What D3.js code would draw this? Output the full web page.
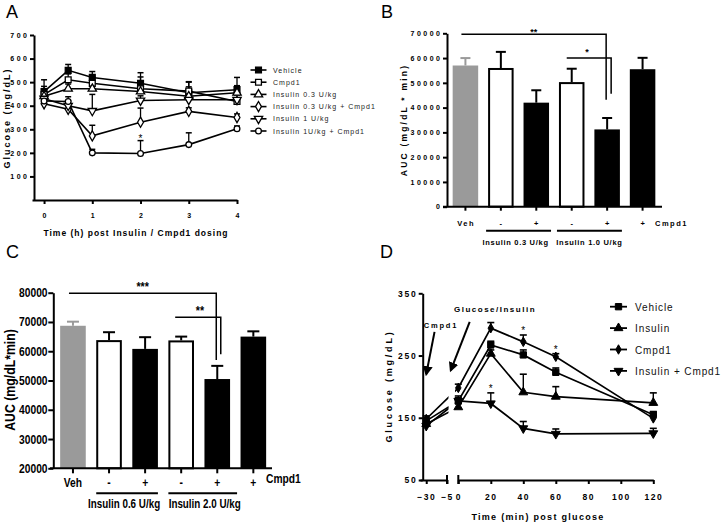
<!DOCTYPE html>
<html><head><meta charset="utf-8">
<script src="https://cdn.jsdelivr.net/npm/d3@7"></script>
<style>body{margin:0;background:#fff}svg{display:block}</style>
</head><body><svg id="c" width="723" height="525"></svg>
<script>
// ================= DATA =================
// Panel A
const timesA = [0, 0.5, 1, 2, 3, 4];
const namesA = ["Vehicle","Cmpd1","Insulin 0.3 U/kg","Insulin 0.3 U/kg + Cmpd1","Insulin 1 U/kg","Insulin 1U/kg + Cmpd1"];
const vehicleA = [460, 550, 520, 495, 455, 468];
const vehicleErrA = [50, 25, 25, 45, 45, 52];
const cmpd1A = [447, 510, 495, 472, 462, 418];
const cmpd1ErrA = [35, 25, 30, 50, 40, 35];
const ins03A = [440, 472, 472, 460, 440, 455];
const ins03ErrA = [30, 20, 20, 30, 40, 30];
const ins03CA = [408, 385, 272, 330, 376, 350];
const ins03CErrA = [20, 15, 45, 60, 15, 15];
const ins1A = [430, 400, 378, 422, 425, 425];
const ins1ErrA = [20, 20, 70, 20, 25, 20];
const ins1CA = [420, 418, 200, 197, 235, 302];
const ins1CErrA = [20, 20, 15, 55, 50, 12];
const yTicksA = [100, 200, 300, 400, 500, 600, 700];
const xTicksA = [0, 1, 2, 3, 4];
// Panel B
const catsB = ["Veh", "-", "+", "-", "+", "+"];
const valuesB = [57000, 56000, 42000, 50300, 31200, 55500];
const errB = [3000, 6500, 5000, 5400, 4600, 4600];
const groupsB = ["Insulin 0.3 U/kg", "Insulin 1.0 U/kg"];
const yTicksB = [0, 10000, 20000, 30000, 40000, 50000, 60000, 70000];
// Panel C
const catsC = ["Veh", "-", "+", "-", "+", "+"];
const valuesC = [68700, 63800, 60800, 63700, 50500, 65000];
const errC = [1400, 2700, 4000, 1300, 4500, 1800];
const groupsC = ["Insulin 0.6 U/kg", "Insulin 2.0 U/kg"];
const yTicksC = [20000, 30000, 40000, 50000, 60000, 70000, 80000];
// Panel D
const timesD = [-30, 0, 20, 40, 60, 120];
const namesD = ["Vehicle", "Insulin", "Cmpd1", "Insulin + Cmpd1"];
const vehicleD = [145, 177, 267, 251, 223, 155];
const vehicleErrD = [5, 8, 6, 8, 7, 5];
const insulinD = [140, 167, 253, 191, 184, 174];
const insulinErrD = [5, 6, 6, 29, 16, 16];
const cmpd1D = [148, 198, 294, 272, 248, 149];
const cmpd1ErrD = [5, 6, 9, 11, 5, 5];
const insCD = [137, 177, 173, 133, 124, 125];
const insCErrD = [5, 5, 17, 11, 8, 8];
const yTicksD = [50, 150, 250, 350];
const xTicksD1 = [-30, -5];
const xTicksD2 = [0, 20, 40, 60, 80, 100, 120];

// ================= DRAWING =================
const FONT = "'Liberation Sans', Arial, Helvetica, sans-serif";
const svg = d3.select("#c");
const defs = svg.append("defs");
const fmt = d3.format("d");
const symTypes = {sq: d3.symbolSquare, tri: d3.symbolTriangle, dia: d3.symbolDiamond, triD: d3.symbolTriangle, cir: d3.symbolCircle};
function marker(g, type, x, y, size, filled, sw) {
  g.append("path").attr("d", d3.symbol(symTypes[type], size)())
    .attr("transform", `translate(${x},${y})` + (type === "triD" ? " rotate(180)" : ""))
    .attr("fill", filled ? "#000" : "#fff").attr("stroke", "#000").attr("stroke-width", sw || 1.3);
}
function styleAxis(g, o) {
  g.attr("font-family", FONT);
  g.select("path.domain").attr("stroke", "#000").attr("stroke-width", o.sw || 2);
  g.selectAll(".tick line").attr("stroke", "#000").attr("stroke-width", o.sw || 2);
  const t = g.selectAll(".tick text").attr("fill", "#000").attr("font-size", o.fs).attr("font-weight", "bold")
    .attr("letter-spacing", o.ls || 0);
  if (o.sx) t.attr("transform", `scale(${o.sx},1)`);
}
function txt(g, x, y, s, o) {
  const t = g.append("text").text(s)
    .attr("font-family", FONT).attr("font-size", o.fs)
    .attr("font-weight", o.bold ? "bold" : "normal").attr("fill", o.fill || "#000")
    .attr("text-anchor", o.anchor || "start").attr("letter-spacing", o.ls || 0);
  let tr = `translate(${x},${y})`;
  if (o.rot) tr += " rotate(-90)";
  if (o.sx) tr += ` scale(${o.sx},1)`;
  t.attr("transform", tr);
  return t;
}

// panel letters
txt(svg, 6, 18, "A", {fs: 18});
txt(svg, 381, 18, "B", {fs: 18});
txt(svg, 6, 258, "C", {fs: 18});
txt(svg, 380, 258, "D", {fs: 18});

// ---------- Panel A ----------
{
  const g = svg.append("g");
  const x = d3.scaleLinear().domain([-0.25, 4]).range([32, 237]);
  const y = d3.scaleLinear().domain([0, 700]).range([200, 35]);
  const ya = g.append("g").attr("transform", "translate(34,0)")
    .call(d3.axisLeft(y).tickValues(yTicksA).tickFormat(fmt).tickSize(4).tickSizeOuter(0).tickPadding(3));
  styleAxis(ya, {fs: 7, ls: 2.5});
  ya.selectAll(".tick text").attr("dx", 2.5);
  const xa = g.append("g").attr("transform", "translate(0,200)")
    .call(d3.axisBottom(x).tickValues(xTicksA).tickFormat(fmt).tickSize(4).tickSizeOuter(0).tickPadding(9));
  styleAxis(xa, {fs: 7});
  txt(g, 136, 236, "Time (h) post Insulin / Cmpd1 dosing", {fs: 8.5, bold: true, ls: 1, anchor: "middle"});
  txt(g, 10, 118, "Glucose (mg/dL)", {fs: 9, bold: true, ls: 2, anchor: "middle", rot: true});

  const series = [
    {v: vehicleA, e: vehicleErrA, m: "sq", f: true},
    {v: cmpd1A, e: cmpd1ErrA, m: "sq", f: false},
    {v: ins03A, e: ins03ErrA, m: "tri", f: false},
    {v: ins03CA, e: ins03CErrA, m: "dia", f: false},
    {v: ins1A, e: ins1ErrA, m: "triD", f: false},
    {v: ins1CA, e: ins1CErrA, m: "cir", f: false}
  ];
  const line = d3.line().x(d => x(d[0])).y(d => y(d[1]));
  series.forEach(s => {
    g.append("path").attr("d", line(timesA.map((t, i) => [t, s.v[i]])))
      .attr("fill", "none").attr("stroke", "#000").attr("stroke-width", 1.6);
  });
  series.forEach(s => {
    timesA.forEach((t, i) => {
      const cx = x(t), y0 = y(s.v[i]), y1 = y(s.v[i] + s.e[i]);
      g.append("line").attr("x1", cx).attr("x2", cx).attr("y1", y0).attr("y2", y1).attr("stroke", "#000").attr("stroke-width", 1.3);
      g.append("line").attr("x1", cx - 3).attr("x2", cx + 3).attr("y1", y1).attr("y2", y1).attr("stroke", "#000").attr("stroke-width", 1.5);
    });
  });
  const sizes = {sq: 34, tri: 30, dia: 30, triD: 30, cir: 26};
  series.forEach(s => timesA.forEach((t, i) => marker(g, s.m, x(t), y(s.v[i]), sizes[s.m], s.f)));
  txt(g, x(2), y(ins1CA[3] + ins1CErrA[3]) + 1, "*", {fs: 10, anchor: "middle"});
  series.forEach((s, i) => {
    const ry = 70 + i * 12.2;
    g.append("line").attr("x1", 250.5).attr("x2", 266.5).attr("y1", ry).attr("y2", ry).attr("stroke", "#000").attr("stroke-width", 1.6);
    marker(g, s.m, 258.5, ry, sizes[s.m], s.f);
    txt(g, 273, ry + 2.5, namesA[i], {fs: 7, ls: 1, fill: "#222"});
  });
}

// ---------- bar panel helper ----------
function barPanel(o) {
  const g = svg.append("g");
  const x = d3.scaleBand().domain(d3.range(o.cats.length)).range(o.xr).paddingInner(o.pi).paddingOuter(o.po);
  const y = d3.scaleLinear().domain(o.yd).range(o.yr);
  const fills = ["#9a9a9a", "#fff", "#000", "#fff", "#000", "#000"];
  const bw = x.bandwidth();
  o.vals.forEach((v, i) => {
    const cx = x(i) + bw / 2;
    const col = i === 0 ? "#9a9a9a" : "#000";
    const ye = y(v + o.errs[i]);
    g.append("line").attr("x1", cx).attr("x2", cx).attr("y1", y(v)).attr("y2", ye).attr("stroke", col).attr("stroke-width", 2);
    g.append("line").attr("x1", cx - o.cap).attr("x2", cx + o.cap).attr("y1", ye).attr("y2", ye).attr("stroke", col).attr("stroke-width", 2);
    const inset = fills[i] === "#fff" ? 1 : 0;
    g.append("rect").attr("x", x(i) + inset).attr("width", bw - 2 * inset)
      .attr("y", y(v) + inset).attr("height", y(o.yd[0]) - y(v) - inset)
      .attr("fill", fills[i]).attr("stroke", fills[i] === "#fff" ? "#000" : "none").attr("stroke-width", 2);
  });
  const ya = g.append("g").attr("transform", `translate(${o.axisX},0)`)
    .call(d3.axisLeft(y).tickValues(o.yTicks).tickFormat(fmt).tickSize(o.ts).tickSizeOuter(0).tickPadding(o.tp));
  styleAxis(ya, {fs: o.tfs, ls: o.tls, sx: o.sx});
  if (o.tls) ya.selectAll(".tick text").attr("dx", o.tls);
  const y0 = y(o.yd[0]);
  g.append("line").attr("x1", o.xLine[0]).attr("x2", o.xLine[1]).attr("y1", y0).attr("y2", y0).attr("stroke", "#000").attr("stroke-width", 2);
  o.cats.forEach((c, i) => {
    const cx = x(i) + bw / 2;
    g.append("line").attr("x1", cx).attr("x2", cx).attr("y1", y0).attr("y2", y0 + o.ts).attr("stroke", "#000").attr("stroke-width", 2);
    txt(g, cx + (o.xls || 0) / 2, o.catY, c, {fs: o.cfs, bold: true, ls: o.xls, anchor: "middle", sx: o.sx});
  });
  txt(g, o.cmpdX, o.cmpdY, "Cmpd1", {fs: o.cfs, bold: true, ls: o.xls, sx: o.sx});
  [[1, 2], [3, 4]].forEach((pr, k) => {
    const a = x(pr[0]) - o.gext, b = x(pr[1]) + bw + o.gext + o.gextR[k];
    g.append("line").attr("x1", a).attr("x2", b).attr("y1", o.gLineY).attr("y2", o.gLineY).attr("stroke", "#000").attr("stroke-width", 2);
    txt(g, (a + b) / 2 + o.gdx[k], o.gLabY, o.groups[k], {fs: o.gfs, bold: true, ls: o.gls, anchor: "middle", sx: o.sx});
  });
  o.sig.forEach(s => {
    const xa = x(s.from) + bw / 2 + s.dxa, xb = x(s.to) + bw / 2 + s.dxb;
    const yl = y(s.y), yd = y(s.drop);
    g.append("path").attr("d", `M${xa},${yl}H${xb}V${yd}`).attr("fill", "none").attr("stroke", "#000").attr("stroke-width", 1.5);
    txt(g, (xa + xb) / 2 + s.ldx, yl - s.ldy, s.label, {fs: o.sfs, bold: true, anchor: "middle", sx: o.sx});
  });
  txt(g, o.titleX, o.titleY, o.title, {fs: o.titfs, bold: true, ls: o.titls, anchor: "middle", rot: true, sx: o.sx});
  return g;
}

// ---------- Panel B ----------
barPanel({
  cats: catsB, vals: valuesB, errs: errB, groups: groupsB, yTicks: yTicksB,
  xr: [447, 661], pi: 0.28, po: 0.16, yd: [0, 70000], yr: [206.7, 33.3],
  cap: 5, axisX: 447, ts: 4, tp: 3, tfs: 7, tls: 2.5, xLine: [443, 662],
  catY: 226, cfs: 7.5, xls: 1.5, cmpdX: 655, cmpdY: 226,
  gext: 2, gextR: [0, 0], gLineY: 230.7, gLabY: 245, gfs: 7.5, gls: 0.7, gdx: [-3, 0],
  sig: [{from: 0, to: 4, y: 69600, drop: 43200, label: "**", dxa: -4, dxb: -1, ldx: 0, ldy: -1},
        {from: 3, to: 4, y: 60000, drop: 45600, label: "*", dxa: -5, dxb: 4, ldx: -2, ldy: 3}],
  sfs: 9, title: "AUC (mg/dL * min)", titleX: 407, titleY: 120, titfs: 8.5, titls: 2.2
});

// ---------- Panel C ----------
barPanel({
  cats: catsC, vals: valuesC, errs: errC, groups: groupsC, yTicks: yTicksC,
  xr: [53.3, 273], pi: 0.29, po: 0.19, yd: [20000, 80000], yr: [468.3, 292.7],
  cap: 6, axisX: 53.3, ts: 5, tp: 2, tfs: 12.5, tls: 0, xLine: [50, 272], sx: 0.82,
  catY: 487, cfs: 12.5, xls: 0, cmpdX: 266, cmpdY: 483,
  gext: 0, gextR: [0, 7], gLineY: 493.3, gLabY: 508, gfs: 12, gls: 0, gdx: [-3, 2],
  sig: [{from: 0, to: 4, y: 79800, drop: 57000, label: "***", dxa: -4, dxb: -1, ldx: 0, ldy: 2},
        {from: 3, to: 4, y: 71600, drop: 59000, label: "**", dxa: -6, dxb: 3.5, ldx: 2, ldy: 2}],
  sfs: 13, title: "AUC (mg/dL*min)", titleX: 15, titleY: 380, titfs: 15, titls: 0
});

// ---------- Panel D ----------
{
  const g = svg.append("g");
  const x1 = d3.scaleLinear().domain([-37.5, -5]).range([420, 447]);
  const x2 = d3.scaleLinear().domain([0, 120]).range([458.3, 653.3]);
  const xD = t => t < 0 ? x1(t) : x2(t);
  const y = d3.scaleLinear().domain([50, 350]).range([480, 293.3]);
  const ya = g.append("g").attr("transform", "translate(422.7,0)")
    .call(d3.axisLeft(y).tickValues(yTicksD).tickFormat(fmt).tickSize(4).tickSizeOuter(0).tickPadding(3));
  styleAxis(ya, {fs: 8.5, ls: 1.8});
  ya.selectAll(".tick text").attr("dx", 1.8);
  const xa1 = g.append("g").attr("transform", "translate(0,480)")
    .call(d3.axisBottom(x1).tickValues(xTicksD1).tickFormat(fmt).tickSize(4).tickSizeOuter(0).tickPadding(10));
  styleAxis(xa1, {fs: 8.5, ls: 1.5});
  const xa2 = g.append("g").attr("transform", "translate(0,480)")
    .call(d3.axisBottom(x2).tickValues(xTicksD2).tickFormat(fmt).tickSize(4).tickSizeOuter(0).tickPadding(10));
  styleAxis(xa2, {fs: 8.5, ls: 1.5});
  [x1(-5), x2(0)].forEach(bx => g.append("line").attr("x1", bx).attr("x2", bx).attr("y1", 475).attr("y2", 484).attr("stroke", "#000").attr("stroke-width", 2));
  txt(g, 538, 520, "Time (min) post glucose", {fs: 9, bold: true, ls: 1.3, anchor: "middle"});
  txt(g, 392, 386, "Glucose (mg/dL)", {fs: 9, bold: true, ls: 2.8, anchor: "middle", rot: true});

  const clip = defs.append("clipPath").attr("id", "gapclip");
  clip.append("rect").attr("x", 0).attr("y", 0).attr("width", 448.5).attr("height", 525);
  clip.append("rect").attr("x", 455).attr("y", 0).attr("width", 300).attr("height", 525);

  const series = [
    {v: vehicleD, e: vehicleErrD, m: "sq", size: 40},
    {v: insulinD, e: insulinErrD, m: "tri", size: 34},
    {v: cmpd1D, e: cmpd1ErrD, m: "dia", size: 26},
    {v: insCD, e: insCErrD, m: "triD", size: 34}
  ];
  const line = d3.line().x(d => xD(d[0])).y(d => y(d[1]));
  series.forEach(s => {
    g.append("path").attr("d", line(timesD.map((t, i) => [t, s.v[i]]))).attr("clip-path", "url(#gapclip)")
      .attr("fill", "none").attr("stroke", "#000").attr("stroke-width", 1.7);
  });
  series.forEach(s => timesD.forEach((t, i) => {
    const cx = xD(t), y0 = y(s.v[i]), y1 = y(s.v[i] + s.e[i]);
    g.append("line").attr("x1", cx).attr("x2", cx).attr("y1", y0).attr("y2", y1).attr("stroke", "#000").attr("stroke-width", 1.4);
    g.append("line").attr("x1", cx - 3.5).attr("x2", cx + 3.5).attr("y1", y1).attr("y2", y1).attr("stroke", "#000").attr("stroke-width", 1.6);
  }));
  series.forEach(s => timesD.forEach((t, i) => marker(g, s.m, xD(t), y(s.v[i]), s.size, true, 1)));
  txt(g, x2(20), y(insCD[2] + insCErrD[2]) - 1, "*", {fs: 10, anchor: "middle"});
  txt(g, x2(40), y(cmpd1D[3] + cmpd1ErrD[3]) - 1, "*", {fs: 10, anchor: "middle"});
  txt(g, x2(60), y(cmpd1D[4] + cmpd1ErrD[4]) - 1, "*", {fs: 10, anchor: "middle"});
  defs.append("marker").attr("id", "ah").attr("viewBox", "0 0 10 10").attr("refX", 8).attr("refY", 5)
    .attr("markerWidth", 5).attr("markerHeight", 5).attr("orient", "auto")
    .append("path").attr("d", "M0,0L10,5L0,10z").attr("fill", "#000");
  const arrows = [
    {label: "Cmpd1", t0: -20, v0: 288, t1: -30, v1: 220, lx: 441, lv: 294, fs: 7.5, ls: 1.8},
    {label: "Glucose/Insulin", t0: 7, v0: 304, t1: -0.5, v1: 226, lx: 495, lv: 320, fs: 8, ls: 1.5}
  ];
  arrows.forEach(a => {
    g.append("line").attr("x1", xD(a.t0)).attr("y1", y(a.v0)).attr("x2", xD(a.t1)).attr("y2", y(a.v1))
      .attr("stroke", "#000").attr("stroke-width", 2).attr("marker-end", "url(#ah)");
    txt(g, a.lx, y(a.lv), a.label, {fs: a.fs, bold: true, ls: a.ls, anchor: "middle"});
  });
  series.forEach((s, i) => {
    const ry = 306.7 + i * 21.4;
    g.append("line").attr("x1", 610).attr("x2", 627).attr("y1", ry).attr("y2", ry).attr("stroke", "#000").attr("stroke-width", 1.8);
    marker(g, s.m, 618.5, ry, s.size, true, 1);
    txt(g, 635, ry + 4, namesD[i], {fs: 10, ls: 0.9, fill: "#111"});
  });
}
</script></body></html>
